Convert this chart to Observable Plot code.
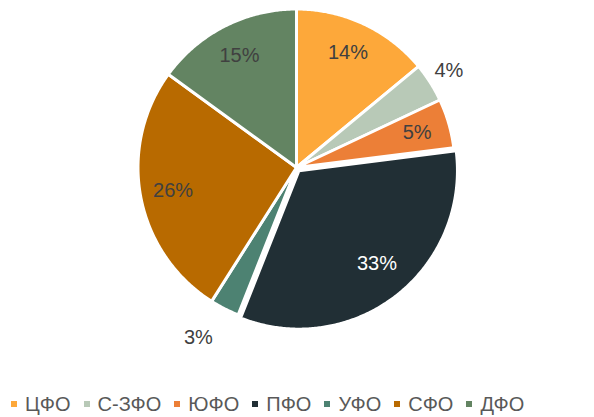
<!DOCTYPE html>
<html><head><meta charset="utf-8">
<script src="https://cdn.jsdelivr.net/npm/d3@7"></script>
<script src="https://cdn.jsdelivr.net/npm/@observablehq/plot@0.6"></script>
<style>
body{margin:0;background:#fff;font-family:"Liberation Sans",Arial,sans-serif;}
#chart{width:594px;height:417px;overflow:hidden;}
.lg-swatches{font-family:"Liberation Sans",Arial,sans-serif;font-size:20px;color:#595959;margin:4px 0 0 11px;}
.lg-swatches-wrap{min-height:30px;}
.lg-swatch{margin-right:13px;}
.lg-swatch > svg{margin-right:8px;}
</style></head><body><div id="chart"></div><script>
// ---- data ----
const regions = ["ЦФО","С-ЗФО","ЮФО","ПФО","УФО","СФО","ДФО"];
const shares  = [14, 4, 5, 33, 3, 26, 15];
const colors  = ["#FDA83A","#B8C9B7","#EC7F37","#212F35","#4D8272","#B86A00","#638462"];
const labels  = shares.map(v => v + "%");

// ---- layout ----
const W = 594, H = 385, CX = 296, CY = 167, R = 157;
const explodeName = "ПФО", explodePx = 4;
const labelRadius = {"С-ЗФО": 1.15, "УФО": 1.25};
const labelAngleShift = {"УФО": 3, "ПФО": -2, "ЦФО": -1};
const labelColor = {"ПФО": "#ffffff"};

const total = d3.sum(shares);
let acc = 0;
const slices = regions.map((name, i) => {
  const a0 = acc / total * 2 * Math.PI;
  acc += shares[i];
  const a1 = acc / total * 2 * Math.PI;
  return {name, a0, a1, mid: (a0 + a1) / 2, label: labels[i]};
});

const rOuter = 1 + 1.5 / R;
const pts = [];
for (const s of slices) {
  const off = s.name === explodeName ? explodePx / R : 0;
  const ox = off * Math.sin(s.mid), oy = -off * Math.cos(s.mid);
  pts.push({name: s.name, x: ox, y: oy});
  const n = Math.max(2, Math.ceil((s.a1 - s.a0) / (Math.PI / 360)));
  for (let k = 0; k <= n; k++) {
    const a = s.a0 + (s.a1 - s.a0) * k / n;
    pts.push({name: s.name, x: ox + rOuter * Math.sin(a), y: oy - rOuter * Math.cos(a)});
  }
  pts.push({name: s.name, x: ox, y: oy});
}
const labelPts = slices.map(s => {
  const r = labelRadius[s.name] ?? 0.8;
  const a = s.mid + (labelAngleShift[s.name] ?? 0) * Math.PI / 180;
  return {name: s.name, label: s.label, x: r * Math.sin(a), y: -r * Math.cos(a),
          color: labelColor[s.name] ?? "#404040"};
});

const plot = Plot.plot({
  width: W, height: H, margin: 0,
  style: {fontFamily: "Liberation Sans, Arial, sans-serif", background: "#fff"},
  x: {domain: [-1, 1], range: [CX - R, CX + R], axis: null},
  y: {domain: [-1, 1], range: [CY - R, CY + R], axis: null},
  color: {domain: regions, range: colors},
  marks: [
    Plot.line(pts, {x: "x", y: "y", z: "name", fill: "name", stroke: "#fff", strokeWidth: 3, strokeLinejoin: "round", curve: "linear"}),
    Plot.text(labelPts, {x: "x", y: "y", text: "label", fill: d => d.color, fontSize: 20})
  ]
});
const legend = Plot.legend({color: {domain: regions, range: colors}, legend: "swatches", swatchSize: 6, className: "lg"});
const el = document.getElementById("chart");
el.appendChild(plot);
el.appendChild(legend);
</script></body></html>
